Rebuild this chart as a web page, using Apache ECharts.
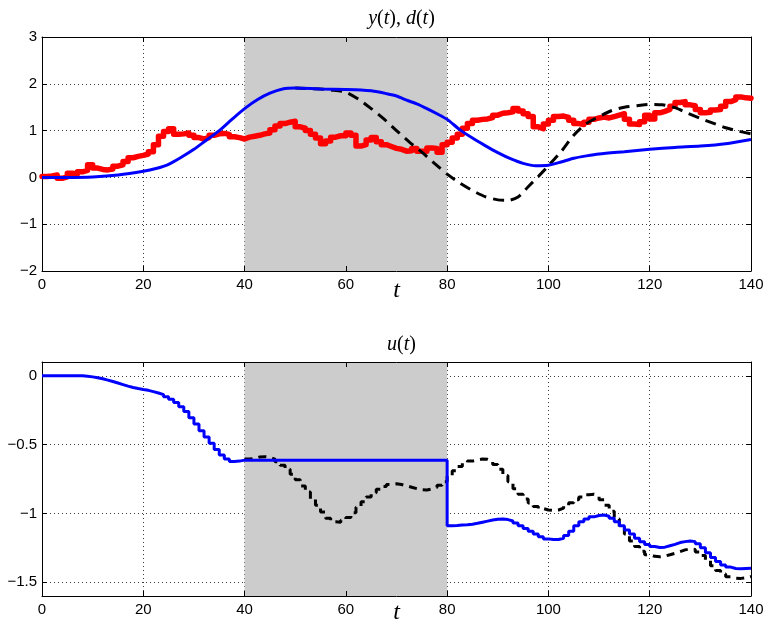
<!DOCTYPE html>
<html>
<head>
<meta charset="utf-8">
<script src="https://cdn.jsdelivr.net/npm/echarts@6/dist/echarts.min.js"></script>
<style>
  html, body { margin: 0; padding: 0; background: #fff; }
  #chart { width: 767px; height: 628px; }
</style>
</head>
<body>
<div id="chart"></div>
<script>
// Sample instants of the zero-order-hold signals: t = 0, 1, ..., 140
const stepTimes = Array.from({ length: 141 }, (_, k) => k);

// d(t): disturbance, one value per sample
const disturbance = [
  0.02, 0.03, 0.05, -0.02, 0.01, 0.09, 0.07, 0.12, 0.15, 0.27,
  0.20, 0.17, 0.16, 0.18, 0.24, 0.27, 0.34, 0.42, 0.45, 0.47,
  0.50, 0.55, 0.70, 0.88, 0.98, 1.04, 0.92, 0.93, 0.95, 0.90,
  0.85, 0.82, 0.85, 0.90, 0.93, 0.94, 0.92, 0.87, 0.85, 0.82,
  0.86, 0.88, 0.90, 0.93, 0.95, 1.02, 1.10, 1.15, 1.18, 1.20,
  1.08, 1.05, 1.00, 0.92, 0.84, 0.72, 0.78, 0.86, 0.89, 0.89,
  0.95, 0.90, 0.67, 0.70, 0.80, 0.85, 0.76, 0.70, 0.66, 0.62,
  0.60, 0.56, 0.57, 0.62, 0.56, 0.56, 0.63, 0.62, 0.54, 0.70,
  0.75, 0.84, 0.92, 1.05, 1.15, 1.22, 1.24, 1.25, 1.28, 1.33,
  1.37, 1.38, 1.40, 1.47, 1.42, 1.36, 1.30, 1.08, 1.04, 1.14,
  1.22, 1.30, 1.31, 1.28, 1.22, 1.15, 1.13, 1.18, 1.24, 1.27,
  1.29, 1.27, 1.30, 1.33, 1.36, 1.24, 1.14, 1.13, 1.19, 1.33,
  1.25, 1.38, 1.41, 1.45, 1.52, 1.60, 1.62, 1.55, 1.53, 1.45,
  1.38, 1.39, 1.44, 1.45, 1.52, 1.62, 1.66, 1.72, 1.70, 1.69,
  1.68
];

// y(t): output with the controller running
const yTimes = [0, 5, 10, 15, 20, 22.5, 25, 27.5, 30, 32.5, 35, 37.5, 40, 42.5, 45, 47.5,
  50, 55, 60, 63, 65, 68, 70, 72, 74, 76, 78, 80, 82.5, 85, 87.5, 90, 92.5, 95, 97.5,
  100, 102.5, 105, 107.5, 110, 115, 120, 125, 130, 135, 140];
const yValues = [0, 0, 0.01, 0.05, 0.13, 0.19, 0.28, 0.43, 0.60, 0.80, 1.00, 1.24, 1.47, 1.66, 1.80, 1.89,
  1.91, 1.89, 1.88, 1.87, 1.85, 1.79, 1.74, 1.65, 1.57, 1.47, 1.36, 1.24, 1.02, 0.84, 0.68, 0.53, 0.40, 0.30, 0.25,
  0.26, 0.33, 0.41, 0.46, 0.50, 0.55, 0.60, 0.64, 0.67, 0.72, 0.81];

// y(t): alternative response (dashed), identical to y(t) before t = 50
const yAltTimes = [50, 55, 57, 60, 62.5, 65, 67.5, 70, 72.5, 75, 77.5, 80, 82.5, 85, 87.5, 90,
  92, 94, 96, 98, 100, 102.5, 105, 107.5, 110, 112.5, 115, 117.5, 120, 122.5, 125, 127.5,
  130, 132.5, 135, 137.5, 140];
const yAltValues = [1.91, 1.89, 1.87, 1.82, 1.67, 1.47, 1.25, 1.00, 0.76, 0.54, 0.30, 0.07, -0.12, -0.28, -0.41, -0.48,
  -0.49, -0.42, -0.20, 0.02, 0.25, 0.55, 0.90, 1.15, 1.30, 1.43, 1.50, 1.53, 1.56, 1.55, 1.49, 1.37,
  1.26, 1.16, 1.06, 0.99, 0.93];

// u(t): input, one value per sample
const uValues = [
  0, 0, 0, 0, 0, 0, 0, 0, -0.003, -0.008,
  -0.014, -0.022, -0.032, -0.042, -0.053, -0.064, -0.075, -0.085, -0.093, -0.100,
  -0.106, -0.115, -0.125, -0.137, -0.152, -0.170, -0.195, -0.225, -0.260, -0.305,
  -0.350, -0.400, -0.445, -0.490, -0.535, -0.575, -0.605, -0.622, -0.620, -0.613,
  -0.613, -0.613, -0.613, -0.613, -0.613, -0.613, -0.613, -0.613, -0.613, -0.613,
  -0.613, -0.613, -0.613, -0.613, -0.613, -0.613, -0.613, -0.613, -0.613, -0.613,
  -0.613, -0.613, -0.613, -0.613, -0.613, -0.613, -0.613, -0.613, -0.613, -0.613,
  -0.613, -0.613, -0.613, -0.613, -0.613, -0.613, -0.613, -0.613, -0.613, -0.613,
  -1.090, -1.088, -1.085, -1.082, -1.078, -1.072, -1.064, -1.056, -1.048, -1.042,
  -1.040, -1.045, -1.055, -1.070, -1.090, -1.110, -1.130, -1.150, -1.170, -1.185,
  -1.190, -1.190, -1.180, -1.160, -1.130, -1.090, -1.060, -1.040, -1.025, -1.015,
  -1.012, -1.020, -1.035, -1.060, -1.090, -1.120, -1.150, -1.180, -1.205, -1.225,
  -1.240, -1.248, -1.245, -1.235, -1.225, -1.212, -1.205, -1.200, -1.205, -1.220,
  -1.250, -1.285, -1.320, -1.350, -1.375, -1.390, -1.400, -1.402, -1.400, -1.398,
  -1.396
];

// u(t): alternative input (dashed), samples from t = 40 on
const uAltStart = 40;
const uAltValues = [
  -0.605, -0.600, -0.590, -0.588, -0.592, -0.605, -0.625, -0.650, -0.680, -0.715,
  -0.755, -0.800, -0.845, -0.895, -0.940, -0.990, -1.035, -1.060, -1.065, -1.050,
  -1.030, -0.995, -0.955, -0.915, -0.880, -0.850, -0.825, -0.805, -0.790, -0.785,
  -0.790, -0.800, -0.810, -0.820, -0.828, -0.830, -0.822, -0.810, -0.795, -0.770,
  -0.730, -0.690, -0.660, -0.635, -0.620, -0.612, -0.605, -0.607, -0.620, -0.645,
  -0.680, -0.725, -0.770, -0.820, -0.860, -0.895, -0.925, -0.950, -0.965, -0.975,
  -0.978, -0.975, -0.962, -0.945, -0.922, -0.900, -0.880, -0.865, -0.860, -0.872,
  -0.900, -0.940, -0.985, -1.040, -1.100, -1.150, -1.200, -1.240, -1.275, -1.300,
  -1.312, -1.315, -1.310, -1.300, -1.290, -1.278, -1.265, -1.258, -1.262, -1.280,
  -1.305, -1.340, -1.380, -1.415, -1.440, -1.460, -1.470, -1.472, -1.468, -1.458,
  -1.455
];

// Axes and the shaded interval
const tRange = [0, 140];
const tInterval = 20;
const yRange = [-2, 3];
const yInterval = 1;
const uRange = [-1.6, 0.1];
const uTicks = [-1.5, -1, -0.5, 0];
const shadeWindow = [40, 80];

const pairs = (xs, vs) => xs.map((x, k) => [x, vs[k]]);

const BLUE = '#0000ff', RED = '#ff0000', BLACK = '#000000', SHADE = '#cccccc';
const labelFont = 'Liberation Sans, Arial, sans-serif';
const serif = 'Liberation Serif, Times New Roman, serif';
const fmt = v => (v < 0 ? '\u2212' + String(Math.abs(v)) : String(v));

const grids = [
  { left: 42, right: 16, top: 37, height: 234 },
  { left: 42, right: 16, top: 362, height: 234 }
];

const gridLine = { show: true, lineStyle: { color: '#3a3a3a', width: 1, type: [1, 3] } };
const tickIn = { show: true, inside: true, length: 5, lineStyle: { color: BLACK, width: 1 } };
const line = { show: true, onZero: false, lineStyle: { color: BLACK, width: 1 } };
const label = { color: BLACK, fontSize: 15, fontFamily: labelFont, formatter: fmt };

function xAxes(g) {
  return [
    { gridIndex: g, type: 'value', position: 'bottom', min: tRange[0], max: tRange[1], interval: tInterval,
      axisLine: line, axisTick: tickIn, axisLabel: Object.assign({ margin: 6 }, label),
      splitLine: gridLine, z: 1 },
    { gridIndex: g, type: 'value', position: 'top', min: tRange[0], max: tRange[1], interval: tInterval,
      axisLine: line, axisTick: tickIn, axisLabel: { show: false }, splitLine: { show: false }, z: 1 }
  ];
}

const option = {
  animation: false,
  backgroundColor: '#ffffff',
  grid: grids,
  title: [
    { text: '{i|y}(' + '{i|t}), {i|d}(' + '{i|t})', left: 396.5, top: 4, textAlign: 'center',
      textStyle: { fontFamily: serif, fontSize: 20, fontWeight: 'normal', color: BLACK,
        rich: { i: { fontFamily: serif, fontSize: 20, fontStyle: 'italic', color: BLACK } } } },
    { text: '{i|u}(' + '{i|t})', left: 396.5, top: 330, textAlign: 'center',
      textStyle: { fontFamily: serif, fontSize: 20, fontWeight: 'normal', color: BLACK,
        rich: { i: { fontFamily: serif, fontSize: 20, fontStyle: 'italic', color: BLACK } } } }
  ],
  graphic: [
    { type: 'text', x: 396.5, y: 291, silent: true,
      style: { text: 't', font: 'italic 24px ' + serif, fill: BLACK, align: 'center', verticalAlign: 'middle' } },
    { type: 'text', x: 396.5, y: 613, silent: true,
      style: { text: 't', font: 'italic 24px ' + serif, fill: BLACK, align: 'center', verticalAlign: 'middle' } }
  ],
  xAxis: xAxes(0).concat(xAxes(1)),
  yAxis: [
    { gridIndex: 0, type: 'value', position: 'left', min: yRange[0], max: yRange[1], interval: yInterval,
      axisLine: line, axisTick: tickIn, axisLabel: Object.assign({ margin: 5 }, label), splitLine: gridLine, z: 1 },
    { gridIndex: 0, type: 'value', position: 'right', min: yRange[0], max: yRange[1], interval: yInterval,
      axisLine: line, axisTick: tickIn, axisLabel: { show: false }, splitLine: { show: false }, z: 1 },
    { gridIndex: 1, type: 'value', position: 'left', min: uRange[0], max: uRange[1],
      axisLine: line, axisTick: Object.assign({ customValues: uTicks }, tickIn),
      axisLabel: Object.assign({ margin: 5, customValues: uTicks }, label), splitLine: gridLine, z: 1 },
    { gridIndex: 1, type: 'value', position: 'right', min: uRange[0], max: uRange[1],
      axisLine: line, axisTick: Object.assign({ customValues: uTicks }, tickIn),
      axisLabel: { show: false, customValues: uTicks }, splitLine: { show: false }, z: 1 }
  ],
  series: [
    // shaded interval, top panel
    { type: 'line', xAxisIndex: 0, yAxisIndex: 0, data: [], z: 0, silent: true,
      markArea: { silent: true, itemStyle: { color: SHADE }, data: [[{ xAxis: shadeWindow[0] }, { xAxis: shadeWindow[1] }]] } },
    // d(t)
    { type: 'line', xAxisIndex: 0, yAxisIndex: 0, step: 'end', showSymbol: false, z: 2,
      data: pairs(stepTimes, disturbance),
      lineStyle: { color: RED, width: 5.5, join: 'round', cap: 'round' } },
    // alternative y(t)
    { type: 'line', xAxisIndex: 0, yAxisIndex: 0, smooth: 0.25, showSymbol: false, z: 3,
      data: pairs(yAltTimes, yAltValues),
      lineStyle: { color: BLACK, width: 3, type: [11, 7] } },
    // y(t)
    { type: 'line', xAxisIndex: 0, yAxisIndex: 0, smooth: 0.25, showSymbol: false, z: 4,
      data: pairs(yTimes, yValues),
      lineStyle: { color: BLUE, width: 3 } },

    // shaded interval, bottom panel
    { type: 'line', xAxisIndex: 2, yAxisIndex: 2, data: [], z: 0, silent: true,
      markArea: { silent: true, itemStyle: { color: SHADE }, data: [[{ xAxis: shadeWindow[0] }, { xAxis: shadeWindow[1] }]] } },
    // alternative u(t)
    { type: 'line', xAxisIndex: 2, yAxisIndex: 2, step: 'end', showSymbol: false, z: 3,
      data: uAltValues.map((v, k) => [uAltStart + k, v]),
      lineStyle: { color: BLACK, width: 3, type: [8, 6] } },
    // u(t)
    { type: 'line', xAxisIndex: 2, yAxisIndex: 2, step: 'end', showSymbol: false, z: 4,
      data: pairs(stepTimes, uValues),
      lineStyle: { color: BLUE, width: 3 } }
  ]
};

const chart = echarts.init(document.getElementById('chart'), null, { renderer: 'canvas' });
chart.setOption(option);
</script>
</body>
</html>
